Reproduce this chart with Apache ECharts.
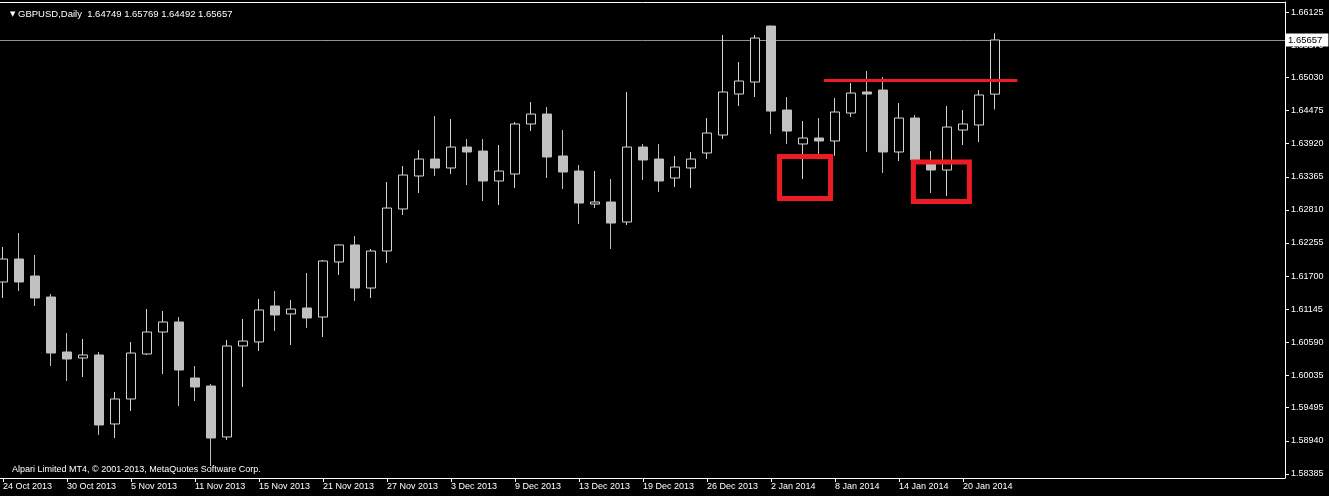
<!DOCTYPE html>
<html><head><meta charset="utf-8">
<script src="https://cdn.jsdelivr.net/npm/echarts@6/dist/echarts.min.js"></script>
<style>html,body{margin:0;padding:0;background:#000;}#c{width:1329px;height:496px;}</style>
</head><body><div id="c"></div>
<script>
const symbolName = 'GBPUSD';
const timeframe = 'Daily';
const dates = ['24 Oct 2013','25 Oct 2013','28 Oct 2013','29 Oct 2013','30 Oct 2013','31 Oct 2013','1 Nov 2013','4 Nov 2013',
 '5 Nov 2013','6 Nov 2013','7 Nov 2013','8 Nov 2013','11 Nov 2013','12 Nov 2013','13 Nov 2013','14 Nov 2013',
 '15 Nov 2013','18 Nov 2013','19 Nov 2013','20 Nov 2013','21 Nov 2013','22 Nov 2013','25 Nov 2013','26 Nov 2013',
 '27 Nov 2013','28 Nov 2013','29 Nov 2013','2 Dec 2013','3 Dec 2013','4 Dec 2013','5 Dec 2013','6 Dec 2013',
 '9 Dec 2013','10 Dec 2013','11 Dec 2013','12 Dec 2013','13 Dec 2013','16 Dec 2013','17 Dec 2013','18 Dec 2013',
 '19 Dec 2013','20 Dec 2013','23 Dec 2013','24 Dec 2013','26 Dec 2013','27 Dec 2013','30 Dec 2013','31 Dec 2013',
 '2 Jan 2014','3 Jan 2014','6 Jan 2014','7 Jan 2014','8 Jan 2014','9 Jan 2014','10 Jan 2014','13 Jan 2014',
 '14 Jan 2014','15 Jan 2014','16 Jan 2014','17 Jan 2014','20 Jan 2014','21 Jan 2014','22 Jan 2014'];
const opens = [1.61602,1.61987,1.61702,1.61350,1.60429,1.60329,1.60379,1.59223,1.59642,1.60396,1.60764,1.60932,1.59993,1.59859,1.59005,1.60530,
 1.60597,1.61200,1.61066,1.61166,1.61015,1.61937,1.62222,1.61501,1.62121,1.62825,1.63378,1.63662,1.63512,1.63863,1.63796,1.63294,
 1.63411,1.64249,1.64416,1.63713,1.63461,1.62908,1.62942,1.62607,1.63863,1.63662,1.63344,1.63512,1.63763,1.64064,1.64751,1.64952,
 1.65890,1.64483,1.63914,1.64014,1.63964,1.64433,1.64785,1.64818,1.63780,1.64349,1.63595,1.63478,1.64148,1.64232,1.64749];
const highs = [1.62188,1.62423,1.62054,1.61401,1.60747,1.60647,1.60429,1.59759,1.60597,1.61149,1.61116,1.61015,1.60194,1.59893,1.60630,1.60982,
 1.61317,1.61451,1.61300,1.61753,1.61970,1.62230,1.62372,1.62155,1.63277,1.63545,1.63813,1.64383,1.64332,1.63997,1.63997,1.63897,
 1.64282,1.64617,1.64534,1.64148,1.63562,1.63461,1.63327,1.64785,1.63914,1.63914,1.63713,1.63780,1.64349,1.65740,1.65287,1.65740,
 1.65900,1.64701,1.64299,1.64349,1.64684,1.64936,1.65137,1.65036,1.64600,1.64399,1.63796,1.64550,1.64483,1.64818,1.65769];
const lows = [1.61334,1.61451,1.61200,1.60194,1.59943,1.60010,1.59039,1.58988,1.59441,1.60379,1.60060,1.59524,1.59608,1.58519,1.58955,1.59843,
 1.60446,1.60781,1.60546,1.60831,1.60680,1.61719,1.61283,1.61334,1.61920,1.62724,1.63093,1.63378,1.63411,1.63227,1.62959,1.62892,
 1.63177,1.64131,1.63344,1.63160,1.62573,1.62841,1.62155,1.62557,1.63311,1.63110,1.63193,1.63177,1.63662,1.63997,1.64550,1.64701,
 1.64081,1.63914,1.63327,1.63729,1.63713,1.64366,1.63780,1.63428,1.63629,1.63562,1.63093,1.63043,1.63897,1.63947,1.64492];
const closes = [1.61987,1.61602,1.61334,1.60412,1.60312,1.60379,1.59206,1.59642,1.60412,1.60764,1.60932,1.60127,1.59843,1.58988,1.60530,1.60613,
 1.61133,1.61049,1.61149,1.60999,1.61954,1.62222,1.61501,1.62121,1.62841,1.63394,1.63662,1.63512,1.63863,1.63780,1.63294,1.63461,
 1.64249,1.64416,1.63696,1.63445,1.62925,1.62942,1.62590,1.63863,1.63646,1.63294,1.63528,1.63662,1.64098,1.64785,1.64969,1.65689,
 1.64466,1.64131,1.64014,1.63964,1.64450,1.64768,1.64751,1.63780,1.64349,1.63646,1.63478,1.64198,1.64249,1.64735,1.65657];
const priceTicks = [1.66125,1.65570,1.65030,1.64475,1.63920,1.63365,1.62810,1.62255,1.61700,1.61145,1.60590,1.60035,1.59495,1.58940,1.58385];
const dateTickIdx = [0,4,8,12,16,20,24,28,32,36,40,44,48,52,56,60];
const currentPrice = 1.65657;
// annotation anchors: [barIndex, price]
const resistanceLine = [[51.3, 1.64977], [63.4, 1.64977]];
const boxA = [[48.53, 1.63704], [51.72, 1.63001]];
const boxB = [[56.9, 1.63612], [60.4, 1.62950]];
const copyright = 'Alpari Limited MT4, © 2001-2013, MetaQuotes Software Corp.';

const rows = dates.map((d, i) => [i, opens[i], closes[i], lows[i], highs[i]]);
const last = dates.length - 1;
const header = '{tri|▼} ' + symbolName + ',' + timeframe + '  ' +
  [opens[last], highs[last], lows[last], closes[last]].map(v => v.toFixed(5)).join(' ');

const FONT = 'Liberation Sans';
const X_MIN = -0.1875, X_MAX = 80.125;
const chart = echarts.init(document.getElementById('c'));
chart.setOption({
  backgroundColor: '#000',
  animation: false,
  title: [
    { text: header, left: 5, top: 4, textStyle: { color: '#fff', fontSize: 9.5, fontWeight: 'normal', fontFamily: FONT,
      rich: { tri: { fontSize: 7, color: '#fff', fontFamily: 'DejaVu Sans' } } } },
    { text: copyright, left: 7, top: 460, textStyle: { color: '#fff', fontSize: 9, fontWeight: 'normal', fontFamily: FONT } }
  ],
  grid: { left: 0, right: 44, top: 2, bottom: 18 },
  xAxis: [{
    type: 'value', min: X_MIN, max: X_MAX, position: 'bottom',
    axisLine: { show: true, onZero: false, lineStyle: { color: '#fff', width: 1 } },
    axisTick: { show: true, customValues: dateTickIdx, length: 4, lineStyle: { color: '#fff' } },
    axisLabel: { customValues: dateTickIdx, formatter: v => dates[Math.round(v)], align: 'left',
      color: '#fff', fontSize: 9, fontFamily: FONT, margin: 4 },
    splitLine: { show: false }
  }, {
    type: 'value', min: X_MIN, max: X_MAX, position: 'top',
    axisLine: { show: true, onZero: false, lineStyle: { color: '#fff', width: 1 } },
    axisTick: { show: false }, axisLabel: { show: false }, splitLine: { show: false }
  }],
  yAxis: {
    type: 'value', position: 'right', min: 1.58318, max: 1.66293, scale: true,
    axisLine: { show: true, onZero: false, lineStyle: { color: '#fff', width: 1 } },
    axisTick: { show: true, customValues: priceTicks, length: 4, lineStyle: { color: '#fff' } },
    axisLabel: { customValues: priceTicks, formatter: v => v.toFixed(5), color: '#fff', fontSize: 9, fontFamily: FONT, margin: 6 },
    splitLine: { show: false }
  },
  series: [
    {
      type: 'line', data: [], z: 1, silent: true,
      markLine: {
        silent: true, z: 1, symbol: ['none', 'none'], animation: false, precision: 5,
        lineStyle: { color: '#8c9299', width: 1, type: 'solid' },
        label: { show: true, position: 'end', formatter: currentPrice.toFixed(5), color: '#000', backgroundColor: '#fff',
          fontSize: 9.5, fontFamily: FONT, padding: [2, 6, 1, 2], distance: 1 },
        data: [{ yAxis: currentPrice }]
      }
    },
    {
      type: 'candlestick', data: rows, encode: { x: 0, y: [1, 2, 3, 4] },
      barWidth: 10, z: 3,
      itemStyle: { color: '#000000', color0: '#c0c0c0', borderColor: '#d4d4d4', borderColor0: '#c0c0c0', borderWidth: 1 }
    },
    {
      type: 'line', data: [], z: 10, silent: true,
      markLine: {
        silent: true, z: 10, symbol: ['none', 'none'], animation: false, precision: 5,
        lineStyle: { color: '#ed1c24', width: 3, type: 'solid' },
        label: { show: false },
        data: [[{ coord: resistanceLine[0] }, { coord: resistanceLine[1] }]]
      },
      markArea: {
        silent: true, z: 10, animation: false, precision: 5,
        itemStyle: { color: 'rgba(0,0,0,0)', borderColor: '#ed1c24', borderWidth: 5 },
        label: { show: false },
        data: [
          [{ coord: boxA[0] }, { coord: boxA[1] }],
          [{ coord: boxB[0] }, { coord: boxB[1] }]
        ]
      }
    }
  ]
});
</script></body></html>
